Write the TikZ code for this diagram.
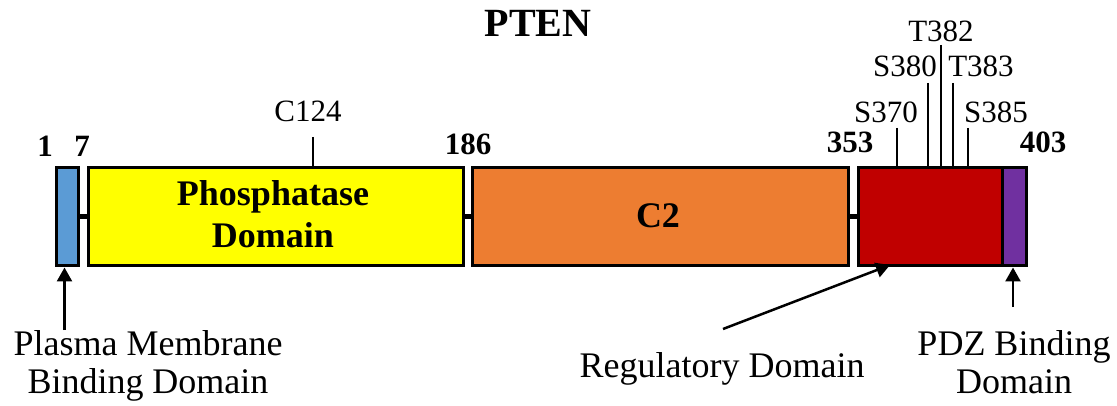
\documentclass[tikz,border=0pt]{standalone}
\usepackage{fontspec}
\setmainfont{Liberation Serif}
\usetikzlibrary{arrows.meta}
\definecolor{pmblue}{HTML}{5B9BD5}
\definecolor{phyellow}{HTML}{FFFF00}
\definecolor{ctwo}{HTML}{ED7D31}
\definecolor{regred}{HTML}{C00000}
\definecolor{pdzpurple}{HTML}{7030A0}
\tikzset{
  dombox/.style={draw=black, line width=3pt, inner sep=0pt, anchor=north west},
  link/.style={line width=5pt},
  tick/.style={line width=2.5pt},
  reglabel/.style={font=\fontsize{36}{38}\selectfont, inner sep=0pt, anchor=base, align=center},
  sitelabel/.style={font=\fontsize{31}{34}\selectfont, inner sep=0pt, anchor=base},
  numlabel/.style={font=\bfseries\fontsize{31}{34}\selectfont, inner sep=0pt, anchor=base},
  domlabel/.style={font=\bfseries\fontsize{36}{43}\selectfont, inner sep=0pt, align=center},
  pointer/.style={line width=2.5pt, -{Triangle[length=14pt,width=15pt]}}
}
\begin{document}
\begin{tikzpicture}[x=1pt,y=-1pt]
\useasboundingbox (0,0) rectangle (1117,406);
% title
\node[font=\bfseries\fontsize{40}{44}\selectfont, inner sep=0pt, anchor=base] (title) at (538,37) {PTEN};
% domains
\node[dombox, fill=pmblue, minimum width=22pt, minimum height=98pt] (pm) at (54.5,166.5) {};
\node[dombox, fill=phyellow, minimum width=375pt, minimum height=98pt] (ph) at (86.5,166.5) {};
\node[dombox, fill=ctwo, minimum width=376pt, minimum height=98pt] (c2) at (470.5,166.5) {};
\node[dombox, fill=regred, minimum width=144.5pt, minimum height=98pt] (rd) at (856.5,166.5) {};
\node[dombox, fill=pdzpurple, minimum width=23.5pt, minimum height=98pt] (pdz) at (1001,166.5) {};
% linkers
\draw[link] (pm.east) -- (ph.west);
\draw[link] (ph.east) -- (c2.west);
\draw[link] (c2.east) -- (rd.west);
% domain labels (base = last line)
\node[domlabel, anchor=base] (phl) at (273,248) {Phosphatase\\Domain};
\node[domlabel, anchor=base] (c2l) at (658,228) {C2};
% position numbers
\node[numlabel] (n1) at (45,157) {1};
\node[numlabel] (n7) at (82,157) {7};
\node[numlabel] (n186) at (468,155) {186};
\node[numlabel] (n353) at (850,153) {353};
\node[numlabel] (n403) at (1043,153) {403};
% sites
\node[sitelabel] (c124) at (308,122) {C124};
\node[sitelabel] (s370) at (886,123) {S370};
\node[sitelabel] (s380) at (905,77) {S380};
\node[sitelabel] (t382) at (941,42) {T382};
\node[sitelabel] (t383) at (981,77) {T383};
\node[sitelabel] (s385) at (996,123) {S385};
\coordinate (tc124) at (313,137);
\coordinate (ts370) at (897,128);
\coordinate (ts380) at (928,83);
\coordinate (tt382) at (941,45);
\coordinate (tt383) at (953,83);
\coordinate (ts385) at (968,128);
\draw[tick] (tc124) -- (tc124 |- ph.north);
\draw[tick] (ts370) -- (ts370 |- rd.north);
\draw[tick] (ts380) -- (ts380 |- rd.north);
\draw[tick] (tt382) -- (tt382 |- rd.north);
\draw[tick] (tt383) -- (tt383 |- rd.north);
\draw[tick] (ts385) -- (ts385 |- rd.north);
% annotations (base = last line)
\node[reglabel] (pml) at (148,393) {Plasma Membrane\\Binding Domain};
\node[reglabel] (rdl) at (722,377) {Regulatory Domain};
\node[reglabel] (pdzl) at (1014,393) {PDZ Binding\\Domain};
\coordinate (apm) at (64.5,330);
\coordinate (apdz) at (1013,307);
\coordinate (ard) at (723,329);
\draw[pointer] (apm) -- (apm |- pm.south);
\draw[pointer] (apdz) -- (apdz |- pdz.south);
\draw[pointer] (ard) -- (890,265);
\end{tikzpicture}
\end{document}
